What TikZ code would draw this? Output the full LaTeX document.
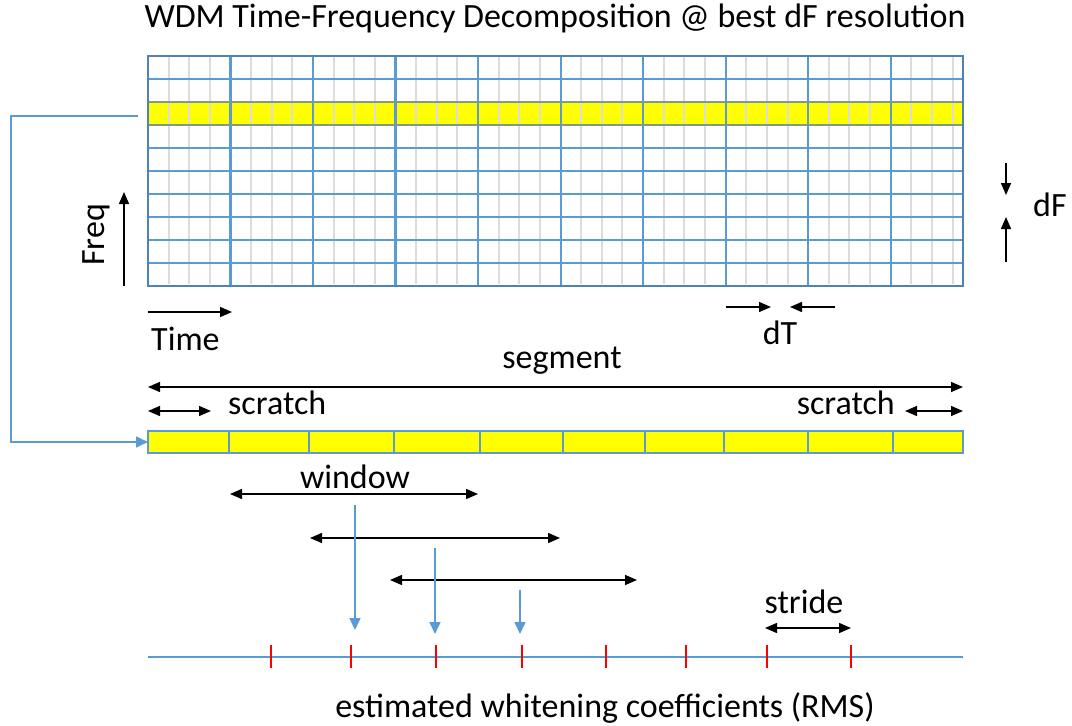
\documentclass[tikz,border=0pt]{standalone}
\usepackage{fontspec}
\setmainfont{Carlito}
\usetikzlibrary{arrows.meta}
\definecolor{gblue}{HTML}{5B9BD5}
\definecolor{ggray}{HTML}{DCDCDC}
\definecolor{yrow}{HTML}{FFFF00}
\definecolor{yedge}{HTML}{7F9A8A}
\begin{document}
\begin{tikzpicture}[x=1pt,y=-1pt,
  font=\fontsize{34}{38}\selectfont,
  lbl/.style={inner sep=0pt, anchor=base},
  blk/.style={line width=1.5pt, -{Triangle[length=12pt,width=10pt]}},
  dbl/.style={line width=1.5pt, {Triangle[length=12pt,width=10pt]}-{Triangle[length=12pt,width=10pt]}},
  barrow/.style={gblue, line width=1.5pt, -{Triangle[length=12pt,width=11pt]}},
  tick/.style={red, line width=2.6pt},
  majorline/.style={gblue, line width=2.2pt},
  minorline/.style={ggray, line width=2pt}]
\useasboundingbox (0,0) rectangle (1072,726);
\fill[white] (0,0) rectangle (1072,726);

% title
\node[lbl] (title) at (555,27) {WDM Time-Frequency Decomposition @ best dF resolution};

% grid
\fill[yrow] (148,102) rectangle (963,125);
\foreach \k in {1,...,39}{
  \pgfmathsetmacro{\xx}{148+20.63*\k}
  \pgfmathtruncatemacro{\m}{mod(\k,4)}
  \ifnum\m=0\else
    \ifdim\xx pt<960pt
      \draw[minorline] (\xx,56) -- (\xx,284);
    \fi
  \fi
}
\foreach \yy in {79,148,171,194,217,240,263}{
  \draw[majorline] (148,\yy) -- (963,\yy);
}
\foreach \k in {1,...,9}{
  \pgfmathsetmacro{\xx}{148+82.52*\k}
  \draw[majorline] (\xx,56) -- (\xx,286);
}
\draw[yedge, line width=2.2pt] (148,102) -- (963,102) (148,125) -- (963,125);
\draw[majorline, draw=gblue!85!black] (148,56) rectangle (963,286);

% Freq
\coordinate (fa) at (124,286);
\coordinate (fb) at (124,192);
\draw[blk] (fa) -- (fb);
\node[inner sep=0pt, rotate=90, anchor=base] (freq) at (104,235) {Freq};

% Time
\coordinate (ta) at (148,312);
\coordinate (tb) at (232,312);
\draw[blk] (ta) -- (tb);
\node[lbl, anchor=base west] (time) at (151,350) {Time};

% dT
\coordinate (dta) at (726,307);
\coordinate (dtb) at (771,307);
\coordinate (dtc) at (835,307);
\coordinate (dtd) at (790,307);
\draw[blk] (dta) -- (dtb);
\draw[blk] (dtc) -- (dtd);
\node[lbl] (dT) at (780,344) {dT};

% dF
\coordinate (dfa) at (1006,163);
\coordinate (dfb) at (1006,195);
\coordinate (dfc) at (1006,262);
\coordinate (dfd) at (1006,217);
\draw[blk] (dfa) -- (dfb);
\draw[blk] (dfc) -- (dfd);
\node[lbl, anchor=base west] (dF) at (1033,216) {dF};

% segment & scratch
\node[lbl] (segment) at (562,368) {segment};
\coordinate (sa) at (148,387);
\coordinate (sb) at (963,387);
\draw[dbl] (sa) -- (sb);
\coordinate (sca) at (148,411);
\coordinate (scb) at (211,411);
\draw[dbl] (sca) -- (scb);
\node[lbl, anchor=base west] (scratchL) at (228,414) {scratch};
\coordinate (scc) at (905,411);
\coordinate (scd) at (963,411);
\draw[dbl] (scc) -- (scd);
\node[lbl, anchor=base east] (scratchR) at (895,414) {scratch};

% yellow bar
\fill[yrow] (148,431) rectangle (963,453);
\foreach \xx in {229,309,394,480,563,645,724,808,893}{
  \draw[gblue, line width=1.6pt] (\xx,431) -- (\xx,453);
}
\draw[gblue, line width=1.6pt] (148,431) rectangle (963,453);

% connector from highlighted row to bar
\coordinate (ca) at (138,116);
\coordinate (cb) at (11,116);
\coordinate (cc) at (11,442);
\coordinate (cd) at (148,442);
\draw[gblue, line width=1.5pt, -{Triangle[length=12pt,width=11pt]}] (ca) -- (cb) -- (cc) -- (cd);

% windows
\node[lbl] (window) at (355,488) {window};
\coordinate (wa) at (230,494);
\coordinate (wb) at (478,494);
\draw[dbl] (wa) -- (wb);
\coordinate (wc) at (310,538);
\coordinate (wd) at (560,538);
\draw[dbl] (wc) -- (wd);
\coordinate (we) at (390,580);
\coordinate (wf) at (637,580);
\draw[dbl] (we) -- (wf);

% blue down arrows
\coordinate (ba) at (355,505);
\coordinate (bb) at (355,630);
\draw[barrow] (ba) -- (bb);
\coordinate (bc) at (435,548);
\coordinate (bd) at (435,634);
\draw[barrow] (bc) -- (bd);
\coordinate (be) at (520,590);
\coordinate (bf) at (520,634);
\draw[barrow] (be) -- (bf);

% axis
\coordinate (xa) at (148,657);
\coordinate (xb) at (963,657);
\draw[gblue, line width=1.5pt] (xa) -- (xb);
\foreach \xx in {271,351,436,522,606,686,767,851}{
  \draw[tick] (\xx,645) -- (\xx,668);
}

% stride
\node[lbl] (stride) at (804,613) {stride};
\coordinate (sta) at (765,628);
\coordinate (stb) at (851,628);
\draw[dbl] (sta) -- (stb);

\node[lbl] (est) at (605,717) {estimated whitening coefficients (RMS)};
\end{tikzpicture}
\end{document}
